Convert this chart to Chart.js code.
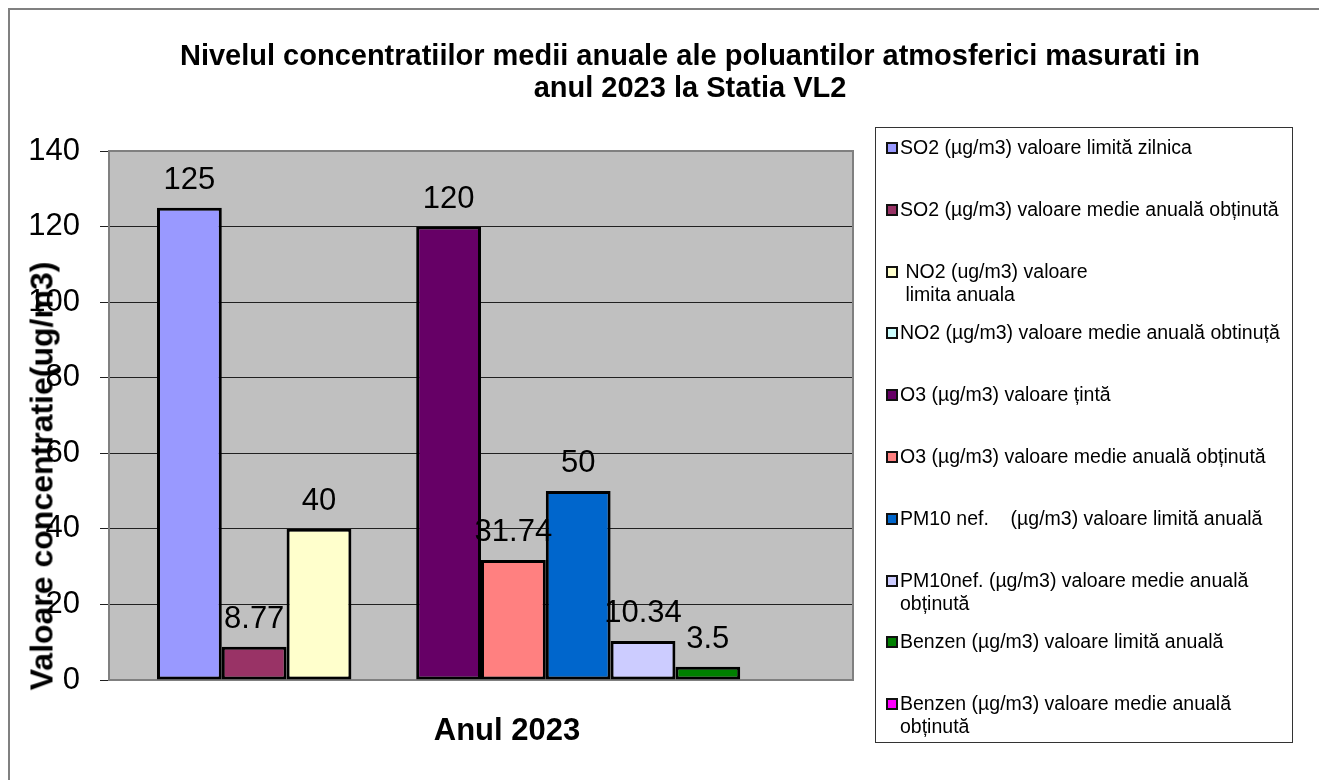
<!DOCTYPE html>
<html>
<head>
<meta charset="utf-8">
<script src="https://cdn.jsdelivr.net/npm/chart.js@4/dist/chart.umd.min.js"></script>
<style>
  body { margin: 0; background: #fff; font-family: "Liberation Sans", Arial, sans-serif; }
  #wrap { position: relative; width: 1319px; height: 780px; overflow: hidden; }
  #frame { position: absolute; left: 8px; top: 8px; right: -10px; bottom: -10px;
           border-left: 2px solid #808080; border-top: 2px solid #808080; }
  #title { position: absolute; left: 690px; top: 39px; transform: translateX(-50%);
           white-space: nowrap; text-align: center; font-weight: bold; font-size: 29px; line-height: 32px; }
  #ytitle { position: absolute; left: 42px; top: 476px; transform: translate(-50%, -50%) rotate(-90deg);
            white-space: nowrap; font-weight: bold; font-size: 32px; }
  #legend { position: absolute; left: 875px; top: 127px; width: 418px; height: 616px;
            box-sizing: border-box; border: 1px solid #333; padding-top: 8px; }
  .item { position: relative; height: 61.8px; }
  .box { position: absolute; left: 10px; top: 6px; width: 12px; height: 12px; box-sizing: border-box;
         border: 2px solid #111; }
  .txt { position: absolute; left: 24px; top: 0; white-space: pre; font-size: 19.5px; line-height: 23px; }
  canvas { position: absolute; left: 0; top: 0; }
</style>
</head>
<body>
<div id="wrap">
  <div id="frame"></div>
  <canvas id="chart" width="1319" height="780"></canvas>
  <div id="title">Nivelul concentratiilor medii anuale ale poluantilor atmosferici masurati in<br>anul 2023 la Statia VL2</div>
  <div id="ytitle">Valoare concentratie(ug/m3)</div>
  <div id="legend"></div>
</div>
<script>
// data
const categories = ['Anul 2023'];

const seriesLabels = [
    'SO2 (µg/m3) valoare limită zilnica',
    'SO2 (µg/m3) valoare medie anuală obținută',
    ' NO2 (ug/m3) valoare\n limita anuala',
    'NO2 (µg/m3) valoare medie anuală obtinuță',
    'O3 (µg/m3) valoare țintă',
    'O3 (µg/m3) valoare medie anuală obținută',
    'PM10 nef.    (µg/m3) valoare limită anuală',
    'PM10nef. (µg/m3) valoare medie anuală\nobținută',
    'Benzen (µg/m3) valoare limită anuală',
    'Benzen (µg/m3) valoare medie anuală\nobținută'
];

const seriesValues = [ 125, 8.77, 40, null, 120, 31.74, 50, 10.34, 3.5, null ];

const seriesColors = [
    '#9999FF', '#993366', '#FFFFCC', '#CCFFFF', '#660066',
    '#FF8080', '#0066CC', '#CCCCFF', '#008000', '#FF00FF'
];

const yMin = 0, yMax = 140, yStep = 20;

// html legend
const legend = document.getElementById('legend');
seriesLabels.forEach(( label, i ) =>
{
    let item = document.createElement('div');
    item.className = 'item';
    let box = document.createElement('div');
    box.className = 'box';
    box.style.background = seriesColors[i];
    let txt = document.createElement('div');
    txt.className = 'txt';
    txt.textContent = label;
    item.appendChild(box);
    item.appendChild(txt);
    legend.appendChild(item);
});

const plotBack = {
    id: 'plotBack',
    beforeDraw( chart )
    {
        const a = chart.chartArea;
        const ctx = chart.ctx;
        ctx.save();
        ctx.fillStyle = '#C0C0C0';
        ctx.fillRect(a.left, a.top, a.right - a.left, a.bottom - a.top);
        ctx.restore();
    },
    beforeDatasetsDraw( chart )
    {
        const a = chart.chartArea;
        const ctx = chart.ctx;
        ctx.save();
        ctx.strokeStyle = '#808080';
        ctx.lineWidth = 2;
        ctx.strokeRect(a.left, a.top, a.right - a.left, a.bottom - a.top);
        ctx.restore();
    }
};

const valueLabels = {
    id: 'valueLabels',
    afterDatasetsDraw( chart )
    {
        const ctx = chart.ctx;
        ctx.save();
        ctx.font = '31px "Liberation Sans", Arial, sans-serif';
        ctx.fillStyle = '#000';
        ctx.textAlign = 'center';
        ctx.textBaseline = 'alphabetic';
        chart.data.datasets.forEach(( ds, i ) =>
        {
            chart.getDatasetMeta(i).data.forEach(( bar, j ) =>
            {
                if( ds.data[j] == null ) return;
                ctx.fillText(String(ds.data[j]), bar.x, bar.y - 19);
            });
        });
        ctx.restore();
    }
};

new Chart(document.getElementById('chart'), {
    type: 'bar',
    data: {
        labels: categories,
        datasets: seriesLabels.map(( label, i ) => ({
            label: label,
            data: [ seriesValues[i] ],
            backgroundColor: seriesColors[i],
            borderColor: '#000',
            borderWidth: 3,
            borderSkipped: false,
            categoryPercentage: 0.871,
            barPercentage: 1
        }))
    },
    options: {
        responsive: false,
        animation: false,
        devicePixelRatio: 1,
        layout: { padding: { left: 0, right: 466, top: 151, bottom: 0 } },
        plugins: {
            legend: { display: false },
            title: { display: false },
            tooltip: { enabled: false }
        },
        scales: {
            x: {
                grid: { display: false },
                border: { display: false },
                ticks: {
                    color: '#000',
                    font: { family: '"Liberation Sans", Arial', size: 31, weight: 'bold' },
                    padding: 25,
                    labelOffset: 26
                },
                afterFit: ( s ) => { s.height = 100; }
            },
            y: {
                min: yMin,
                max: yMax,
                border: { display: false },
                grid: { color: '#202020', lineWidth: 1, tickLength: 9 },
                ticks: {
                    stepSize: yStep,
                    color: '#000',
                    font: { family: '"Liberation Sans", Arial', size: 31 },
                    padding: 20
                },
                afterFit: ( s ) => { s.width = 109; }
            }
        }
    },
    plugins: [ plotBack, valueLabels ]
});
</script>
</body>
</html>
